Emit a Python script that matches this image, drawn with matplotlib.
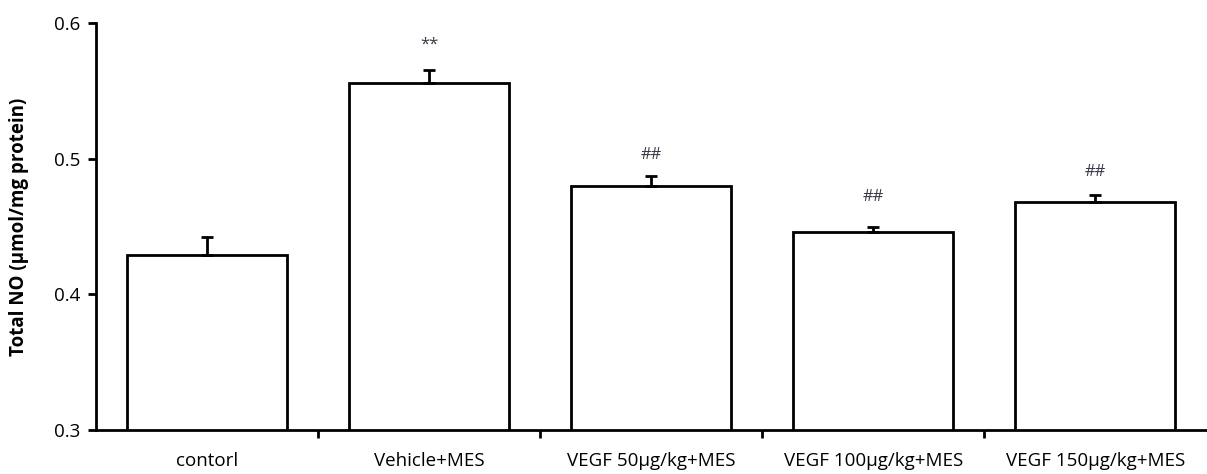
import matplotlib
matplotlib.use("Agg")
import matplotlib.pyplot as plt
import numpy as np

categories = ["contorl", "Vehicle+MES", "VEGF 50µg/kg+MES", "VEGF 100µg/kg+MES", "VEGF 150µg/kg+MES"]
values = [0.429, 0.556, 0.480, 0.446, 0.468]
errors = [0.013, 0.009, 0.007, 0.004, 0.005]
annotations = ["", "**", "##", "##", "##"]

plt.rcParams['font.family'] = ['Open Sans', 'DejaVu Sans']

fig = plt.figure(figsize=(12.07, 4.74), dpi=100)
ax = fig.add_axes([0.0795, 0.0928, 0.9200, 0.8587])

x = np.arange(len(categories))
ax.bar(x, values, width=0.72, bottom=0, color='white', edgecolor='black', linewidth=2, zorder=2)
ax.errorbar(x, values, yerr=[np.zeros(len(errors)), errors], fmt='none', ecolor='black',
            elinewidth=2, capsize=4, capthick=2, zorder=3)
ann_offsets = [0, 0.019, 0.016, 0.022, 0.017]
for xi, v, e, a, off in zip(x, values, errors, annotations, ann_offsets):
    if a:
        ax.text(xi, v + e + off, a, ha='center', va='center', fontsize=12, color='#3a3a4a')

ax.set_ylim(0.3, 0.6)
ax.set_xlim(-0.5, len(categories) - 0.5)
ax.set_yticks([0.3, 0.4, 0.5, 0.6])
ax.set_yticklabels(["0.3", "0.4", "0.5", "0.6"])
ax.set_xticks(x)
ax.set_xticklabels(categories)
ax.set_xticks(np.arange(0.5, len(categories) - 0.5, 1.0), minor=True)
ax.tick_params(axis='x', which='major', length=0, pad=16, labelsize=13.5)
ax.tick_params(axis='x', which='minor', length=6, width=2, direction='out')
ax.tick_params(axis='y', length=6, width=2, direction='out', labelsize=13.5, pad=5)
for s in ['top', 'right']:
    ax.spines[s].set_visible(False)
for s in ['left', 'bottom']:
    ax.spines[s].set_linewidth(2)
ax.set_ylabel("Total NO (µmol/mg protein)", fontsize=13.5, fontweight='bold', labelpad=18)

fig.savefig("out.png", dpi=100)
